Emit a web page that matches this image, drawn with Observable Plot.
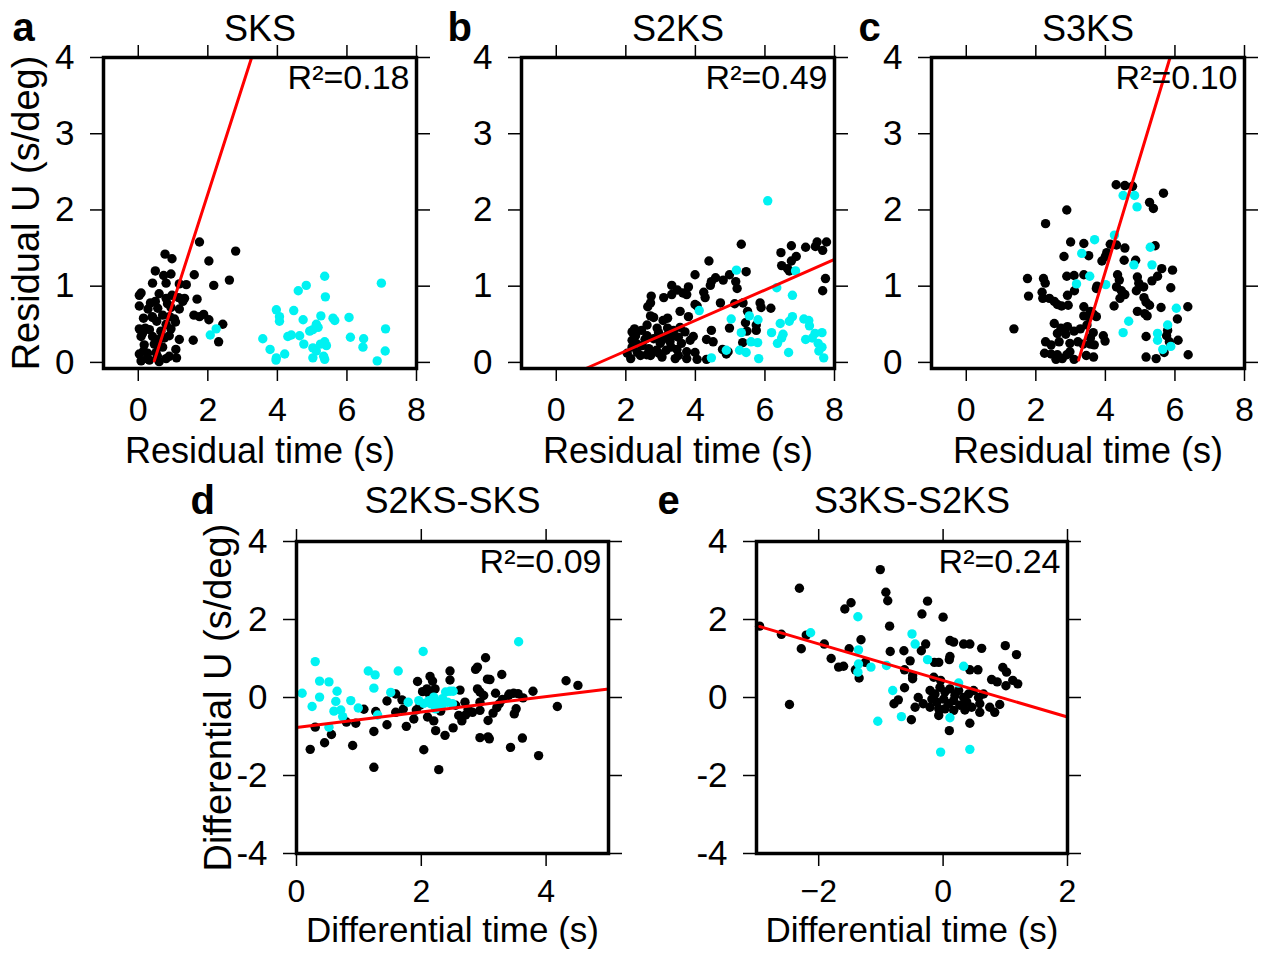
<!DOCTYPE html>
<html><head><meta charset="utf-8">
<script src="https://cdn.jsdelivr.net/npm/d3@7"></script>
<script src="https://cdn.jsdelivr.net/npm/@observablehq/plot@0.6"></script>
<style>
html,body{margin:0;padding:0;background:#fff;}
#chart{position:relative;width:1263px;height:953px;overflow:hidden;background:#fff;}
#chart svg{position:absolute;left:0;top:0;}
</style></head><body><div id="chart"></div>
<script>
// ---------- data ----------
const aBlack = [[1.76,1.58],[2.8,1.46],[0.77,1.42],[0.97,1.36],[2.03,1.33],[0.49,1.2],[0.73,1.14],[0.94,1.16],[1.61,1.15],[2.62,1.08],[0.41,1.04],[0.8,1.04],[1.18,1.03],[1.38,1.02],[2.17,1.01],[0.08,0.91],[0.03,0.88],[0.97,0.88],[0.8,0.84],[1.16,0.85],[1.33,0.84],[1.69,0.83],[0.35,0.78],[0.49,0.8],[0.84,0.77],[1.28,0.8],[0.03,0.74],[0.28,0.7],[0.56,0.71],[0.94,0.72],[1.18,0.7],[0.15,0.58],[0.41,0.59],[0.7,0.62],[1.04,0.57],[1.6,0.62],[1.76,0.6],[1.88,0.63],[2.03,0.56],[0.53,0.54],[0.8,0.5],[1.07,0.53],[2.43,0.5],[0.03,0.44],[0.32,0.43],[0.65,0.41],[0.94,0.44],[0.08,0.34],[0.41,0.34],[0.75,0.32],[0.89,0.35],[1.18,0.3],[1.58,0.29],[2.31,0.27],[0.17,0.23],[0.46,0.24],[1.08,0.17],[0.03,0.11],[0.27,0.12],[0.51,0.13],[0.89,0.08],[1.1,0.06],[0.08,0.02],[0.32,0.03],[0.6,0.01],[0.8,0.05],[0.2,0.45],[0.6,0.3],[0.15,0.15],[0.7,0.2],[0.4,0.6],[0.9,0.6],[0.6,0.9],[0.25,0.05],[0.12,0.38],[0.55,0.08]];
const aCyan = [[2.07,0.36],[2.24,0.44],[3.58,0.31],[3.79,0.17],[3.97,0.69],[4.06,0.6],[4.06,0.54],[3.97,0.06],[3.96,0.03],[4.21,0.11],[4.3,0.34],[4.4,0.36],[4.47,0.68],[4.6,0.94],[4.83,1.01],[4.64,0.35],[4.76,0.24],[4.74,0.56],[4.93,0.41],[5.02,0.43],[5.12,0.5],[5.17,0.46],[5.25,0.61],[5.02,0.19],[5.12,0.15],[5.02,0.06],[5.24,0.24],[5.36,0.27],[5.41,0.22],[5.36,1.13],[5.38,0.86],[5.33,0.08],[5.36,0.04],[5.6,0.58],[5.65,0.55],[6.06,0.59],[6.1,0.33],[6.48,0.31],[6.46,0.2],[6.99,1.04],[7.11,0.44],[7.1,0.15],[6.87,0.02]];
const aFit = [[0.46,0.02],[3.26,4]];

const bBlack = [[5.32,1.55],[4.39,1.33],[6.46,1.44],[6.76,1.53],[7.17,1.51],[7.5,1.58],[7.45,1.52],[7.77,1.58],[7.66,1.47],[6.9,1.39],[6.76,1.33],[6.48,1.27],[6.65,1.23],[6.7,1.2],[7.74,1.1],[7.66,0.94],[5.46,1.19],[4.98,1.15],[5.16,1.06],[5.2,0.97],[4.8,1.08],[4.58,1.11],[4.46,1.06],[4.43,1.01],[3.99,1.15],[4.24,0.92],[4.28,0.85],[3.8,0.99],[3.75,0.89],[3.64,0.91],[3.48,0.95],[3.32,1.01],[3.32,0.89],[3.09,0.85],[2.73,0.87],[2.71,0.78],[2.63,0.73],[2.71,0.61],[2.8,0.59],[2.61,0.49],[3.07,0.55],[3.2,0.58],[3.56,0.67],[3.8,0.6],[3.99,0.76],[4.05,0.74],[4.72,0.78],[5.13,0.77],[5.37,0.78],[5.5,0.67],[5.44,0.52],[5.75,0.49],[5.86,0.78],[5.89,0.72],[6.17,0.71],[5.48,0.41],[5.75,0.42],[5.36,0.26],[4.98,0.45],[4.46,0.42],[4.32,0.3],[4.51,0.27],[4.78,0.17],[4.94,0.14],[4.89,0.11],[4.32,0.04],[4.05,0.04],[3.75,0.05],[3.42,0.05],[3.04,0.07],[2.71,0.09],[2.42,0.09],[2.14,0.05],[2.04,0.12],[2.18,0.2],[2.18,0.29],[2.28,0.35],[2.25,0.44],[2.18,0.4],[2.45,0.42],[2.61,0.35],[2.8,0.31],[2.94,0.39],[2.99,0.25],[3.18,0.35],[3.27,0.27],[3.37,0.42],[3.51,0.33],[3.56,0.46],[3.7,0.4],[3.85,0.29],[3.94,0.34],[2.88,0.16],[3.16,0.16],[2.66,0.18],[2.47,0.22],[3.47,0.17],[3.75,0.14],[3.99,0.13],[2.33,0.13],[3.51,0.09],[2.3,0.25],[2.55,0.3],[2.9,0.45],[3.05,0.3],[3.3,0.2],[3.6,0.25],[2.6,0.1],[3.2,0.45],[2.95,0.12],[3.4,0.35]];
const bCyan = [[6.08,2.12],[5.18,1.21],[6.88,1.2],[6.34,0.98],[6.79,0.88],[4.11,0.68],[5.03,0.57],[5.32,0.39],[5.55,0.61],[5.8,0.56],[5.6,0.27],[5.79,0.26],[5.27,0.16],[5.46,0.13],[5.82,0.05],[4.89,0.16],[4.46,0.06],[6.19,0.39],[6.44,0.51],[6.52,0.37],[6.48,0.32],[6.36,0.25],[6.7,0.54],[6.79,0.6],[6.68,0.13],[7.12,0.57],[7.26,0.55],[7.28,0.48],[7.17,0.3],[7.36,0.32],[7.44,0.38],[7.64,0.39],[7.53,0.25],[7.64,0.2],[7.55,0.15],[7.69,0.06]];
const bFit = [[0.85,-0.08],[8,1.35]];

const cBlack = [[4.31,2.33],[4.56,2.32],[4.78,2.31],[5.67,2.22],[5.27,2.1],[5.38,2.02],[2.89,2.0],[2.28,1.82],[3.0,1.58],[3.38,1.56],[4.14,1.55],[4.32,1.54],[4.56,1.5],[5.43,1.53],[2.81,1.39],[3.52,1.4],[4.04,1.44],[4.0,1.39],[3.9,1.33],[4.54,1.34],[4.87,1.34],[1.76,1.1],[2.22,1.1],[2.27,1.04],[2.89,1.13],[3.1,1.14],[3.38,1.15],[3.76,1.0],[3.74,0.97],[4.35,1.15],[4.4,1.08],[4.32,0.99],[4.46,0.94],[4.42,0.84],[4.56,0.89],[4.92,1.12],[4.96,1.04],[5.1,0.99],[5.34,1.07],[5.5,1.13],[5.62,1.23],[5.93,1.21],[5.88,0.98],[4.89,0.94],[5.11,0.85],[5.17,0.79],[5.27,0.75],[1.79,0.87],[2.18,0.92],[2.2,0.84],[2.39,0.84],[2.53,0.8],[2.62,0.76],[2.74,0.74],[2.93,0.75],[2.91,0.88],[3.11,0.94],[3.38,0.73],[3.57,0.67],[3.66,0.63],[3.52,0.6],[3.74,0.6],[3.38,0.61],[4.25,0.74],[4.92,0.67],[5.13,0.64],[5.2,0.61],[5.6,0.72],[6.37,0.73],[6.07,0.57],[6.09,0.29],[6.38,0.1],[5.79,0.42],[5.84,0.27],[5.76,0.35],[5.17,0.34],[5.69,0.13],[5.46,0.05],[5.17,0.07],[1.37,0.44],[2.53,0.51],[2.72,0.45],[2.91,0.47],[2.62,0.38],[2.86,0.37],[3.1,0.41],[3.28,0.44],[3.47,0.49],[3.65,0.39],[3.57,0.32],[3.94,0.35],[3.99,0.28],[2.28,0.27],[2.44,0.23],[2.67,0.27],[2.98,0.25],[3.21,0.27],[3.36,0.24],[3.57,0.24],[3.68,0.23],[2.25,0.12],[2.44,0.11],[2.62,0.1],[2.76,0.05],[2.89,0.1],[3.1,0.04],[2.98,0.14],[3.45,0.09],[3.66,0.07],[2.58,0.04]];
const cCyan = [[4.51,2.19],[4.84,2.19],[4.91,2.04],[3.69,1.61],[4.26,1.67],[3.32,1.43],[5.29,1.51],[4.82,1.28],[5.34,1.28],[3.55,1.13],[3.17,1.03],[4.01,1.02],[6.04,0.71],[4.67,0.54],[4.51,0.39],[5.79,0.49],[5.5,0.38],[5.5,0.29],[5.88,0.21],[5.65,0.17]];
const cFit = [[3.23,0.03],[5.86,4]];

const dBlack = [[3.03,1.02],[2.9,0.78],[2.87,0.72],[3.29,0.59],[2.46,0.68],[2.14,0.54],[2.18,0.42],[1.94,0.41],[3.06,0.47],[3.1,0.46],[2.46,0.45],[4.32,0.43],[4.51,0.31],[2.02,0.15],[2.09,0.22],[2.12,0.11],[2.62,0.19],[2.9,0.22],[2.94,0.14],[3.19,0.11],[3.41,0.09],[3.48,0.11],[3.79,0.16],[1.59,0.09],[1.45,-0.09],[1.69,-0.06],[1.08,-0.3],[1.27,-0.36],[1.59,-0.38],[1.71,-0.3],[1.92,-0.32],[1.88,-0.55],[2.1,-0.5],[2.31,-0.35],[2.6,-0.46],[2.71,-0.45],[2.82,-0.38],[2.94,-0.33],[3.07,-0.59],[2.7,-0.12],[2.94,-0.12],[3.21,-0.26],[3.25,-0.16],[3.52,-0.29],[3.49,-0.42],[3.63,-0.01],[4.18,-0.23],[0.95,-0.66],[0.8,-0.63],[0.3,-0.76],[0.56,-0.95],[0.45,-1.16],[0.22,-1.33],[0.9,-1.23],[1.24,-0.87],[1.24,-1.79],[1.45,-0.7],[1.76,-0.74],[2.04,-1.34],[2.23,-0.85],[2.38,-0.97],[2.28,-1.85],[2.51,-0.78],[2.94,-1.03],[3.07,-1.01],[3.09,-1.06],[3.43,-1.28],[3.62,-1.04],[3.88,-1.49],[2.55,-0.2],[2.75,-0.3],[3.0,0.05],[3.3,-0.05],[1.98,-0.2],[2.2,-0.6],[2.65,-0.6],[3.4,0.05],[3.15,-0.4],[3.55,0.1],[2.22,0.22]];
const dCyan = [[0.09,0.11],[0.3,0.92],[0.37,0.42],[0.52,0.4],[0.37,0.01],[0.25,-0.23],[0.65,0.16],[0.63,-0.1],[0.6,-0.35],[0.71,-0.32],[0.74,-0.49],[0.52,-0.76],[0.87,-0.08],[0.99,-0.27],[1.15,0.68],[1.26,0.58],[1.24,0.24],[1.3,-0.45],[1.63,0.68],[1.51,0.13],[2.03,1.18],[3.56,1.43],[1.79,-0.12],[1.96,-0.08],[2.12,-0.08],[2.2,0.01],[2.26,-0.16],[2.34,-0.03],[2.39,0.14],[2.46,0.16],[2.51,0.16],[2.42,-0.12],[2.5,-0.16],[2.23,-0.29],[2.33,-0.2],[2.15,-0.16],[2.04,-0.15]];
const dFit = [[0,-0.77],[5,0.22]];

const eBlack = [[-1.01,3.28],[-2.31,2.8],[-0.92,2.7],[-0.89,2.48],[-0.25,2.47],[-1.48,2.43],[-1.58,2.27],[-0.34,2.14],[0,2.06],[-2.95,1.83],[-2.6,1.62],[-2.2,1.6],[-2.28,1.25],[-1.91,1.37],[-1.8,1.0],[-1.68,0.78],[-1.6,0.8],[-1.51,1.25],[-1.32,1.48],[-1.41,0.71],[-1.35,0.5],[-1.25,0.9],[-0.86,1.83],[-0.85,1.18],[-0.63,1.2],[-0.53,0.94],[-0.62,0.71],[-0.49,0.56],[-0.49,0.48],[-0.35,1.2],[-0.28,1.37],[-0.14,0.9],[-0.07,0.9],[0.11,1.05],[0.1,0.97],[0.11,1.46],[0.17,1.42],[0.33,1.37],[0.43,1.37],[0.62,1.26],[1.0,1.33],[1.18,1.1],[0.43,0.71],[0.56,0.71],[0.96,0.77],[1.02,0.65],[0.78,0.46],[0.87,0.4],[1.01,0.3],[1.12,0.44],[1.2,0.35],[-0.15,0.52],[-0.04,0.44],[-0.21,0.18],[-0.13,0.09],[-0.05,0.26],[0.03,0.14],[0.11,0.22],[0.19,0.05],[0.25,0.18],[0.33,0.0],[0.41,0.09],[0.49,0.18],[0.57,0.0],[0.65,0.09],[-0.18,-0.04],[-0.1,-0.12],[0.01,-0.04],[0.09,-0.16],[0.17,-0.08],[0.27,-0.2],[0.38,-0.12],[0.46,-0.25],[0.59,-0.16],[-0.21,-0.25],[-0.07,-0.29],[0.03,-0.29],[0.17,-0.33],[0.35,-0.32],[0.59,-0.38],[0.75,-0.25],[0.83,-0.38],[0.91,-0.18],[-0.32,-0.16],[-0.4,0.0],[-0.45,-0.25],[-0.79,-0.16],[-0.72,-0.06],[-0.62,0.25],[-0.51,-0.57],[-0.07,-0.46],[0.1,-0.85],[0.43,-0.66],[-2.47,-0.18]];
const eCyan = [[-1.37,2.07],[-2.13,1.66],[-0.5,1.63],[-0.45,1.37],[-1.36,1.22],[-1.36,0.86],[-1.37,0.65],[-1.16,0.78],[-0.91,0.82],[-0.25,0.97],[0.33,0.8],[0.25,0.37],[-0.81,0.18],[-0.67,-0.49],[-1.05,-0.61],[0.11,-0.52],[-0.04,-1.4],[0.43,-1.33]];
const eFit = [[-2.95,1.82],[2,-0.5]];

const panelLetters = ["a","b","c","d","e"];
const panelTitles = ["SKS","S2KS","S3KS","S2KS-SKS","S3KS-S2KS"];
const r2Labels = ["R²=0.18","R²=0.49","R²=0.10","R²=0.09","R²=0.24"];
const xTitles = ["Residual time (s)","Residual time (s)","Residual time (s)","Differential time (s)","Differential time (s)"];
const yTitles = ["Residual U (s/deg)",null,null,"Differential U (s/deg)",null];
const topXTicks = [0,2,4,6,8];
const topYTicks = [0,1,2,3,4];
const dXTicks = [0,2,4];
const eXTicks = [-2,0,2];
const bottomYTicks = [-4,-2,0,2,4];

// ---------- layout ----------
const W = 1263, H = 953;
const FONT = "'Liberation Sans', Arial, Helvetica, sans-serif";
const layout = [
  {frame:[103,416,57,368], xDomain:[-1,8], yDomain:[-0.08,4], xTicks:topXTicks, yTicks:topYTicks, letterDx:-91, letterDy:-17, titleDy:-17, xPad:15, xTickFont:34, xTitleDy:94, xTitleFont:36, yTitleDx:-65, xMinus:"-"},
  {frame:[521,834,57,368], xDomain:[-1,8], yDomain:[-0.08,4], xTicks:topXTicks, yTicks:topYTicks, letterDx:-74, letterDy:-17, titleDy:-17, xPad:15, xTickFont:34, xTitleDy:94, xTitleFont:36, xMinus:"-"},
  {frame:[931,1244,57,368], xDomain:[-1,8], yDomain:[-0.08,4], xTicks:topXTicks, yTicks:topYTicks, letterDx:-73, letterDy:-17, titleDy:-17, xPad:15, xTickFont:34, xTitleDy:94, xTitleFont:36, xMinus:"-"},
  {frame:[296,608,541,853], xDomain:[0,5], yDomain:[-4,4], xTicks:dXTicks, yTicks:bottomYTicks, letterDx:-106, letterDy:-28, titleDy:-29, xPad:13, xTickFont:32, xTitleDy:88, xTitleFont:35, yTitleDx:-66, xMinus:"-"},
  {frame:[756,1067,541,853], xDomain:[-3,2], yDomain:[-4,4], xTicks:eXTicks, yTicks:bottomYTicks, letterDx:-99, letterDy:-28, titleDy:-29, xPad:13, xTickFont:32, xTitleDy:88, xTitleFont:35, xMinus:"\u2212"}
];
const blacks = [aBlack,bBlack,cBlack,dBlack,eBlack];
const cyans = [aCyan,bCyan,cCyan,dCyan,eCyan];
const fits = [aFit,bFit,cFit,dFit,eFit];

const yFmt = d => d < 0 ? "-" + Math.abs(d) : String(d);
const chart = document.getElementById("chart");

layout.forEach((L, i) => {
  const [fl, fr, ft, fb] = L.frame;
  const xFmt = d => d < 0 ? L.xMinus + Math.abs(d) : String(d);
  const marks = [
    Plot.axisX({anchor:"bottom", ticks:L.xTicks, tickSize:13, tickPadding:L.xPad, label:null, fontSize:L.xTickFont, tickFormat:xFmt, strokeWidth:1.5}),
    Plot.axisX({anchor:"top", ticks:L.xTicks, tickSize:13, label:null, tickFormat:() => "", strokeWidth:1.5}),
    Plot.axisY({anchor:"left", ticks:L.yTicks, tickSize:13, tickPadding:16, label:null, fontSize:35, tickFormat:yFmt, strokeWidth:1.5}),
    Plot.axisY({anchor:"right", ticks:L.yTicks, tickSize:13, label:null, tickFormat:() => "", strokeWidth:1.5}),
    Plot.dot(blacks[i], {x:d => d[0], y:d => d[1], r:4.7, fill:"#000"}),
    Plot.dot(cyans[i], {x:d => d[0], y:d => d[1], r:4.7, fill:"#00f2f2"}),
    Plot.line(fits[i], {x:d => d[0], y:d => d[1], stroke:"#ff0000", strokeWidth:3}),
    Plot.frame({stroke:"#000", strokeWidth:3.5}),
    Plot.text([panelTitles[i]], {frameAnchor:"top", textAnchor:"middle", lineAnchor:"bottom", dy:L.titleDy, fontSize:36}),
    Plot.text([panelLetters[i]], {frameAnchor:"top-left", textAnchor:"start", lineAnchor:"bottom", dx:L.letterDx, dy:L.letterDy, fontSize:40, fontWeight:"bold"}),
    Plot.text([r2Labels[i]], {frameAnchor:"top-right", textAnchor:"end", lineAnchor:"bottom", dx:-7, dy:31, fontSize:34}),
    Plot.text([xTitles[i]], {frameAnchor:"bottom", textAnchor:"middle", lineAnchor:"bottom", dy:L.xTitleDy, fontSize:L.xTitleFont})
  ];
  if (yTitles[i]) {
    marks.push(Plot.text([yTitles[i]], {frameAnchor:"left", textAnchor:"middle", lineAnchor:"bottom", rotate:-90, dx:L.yTitleDx, fontSize:38}));
  }
  const svg = Plot.plot({
    width: W, height: H,
    marginLeft: fl, marginRight: W - fr, marginTop: ft, marginBottom: H - fb,
    style: {background:"transparent", fontFamily:FONT, fontSize:"34px", color:"#000", overflow:"visible"},
    x: {domain:L.xDomain},
    y: {domain:L.yDomain},
    marks
  });
  chart.appendChild(svg);
});
</script></body></html>
